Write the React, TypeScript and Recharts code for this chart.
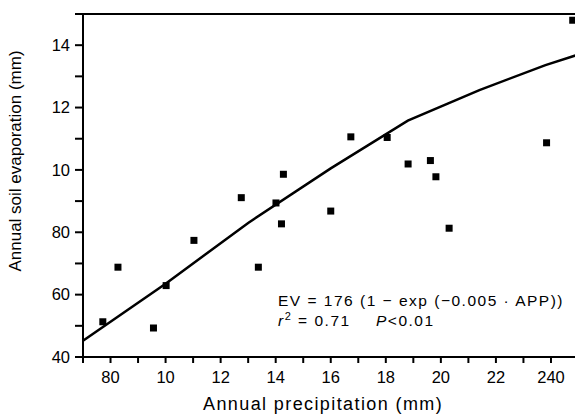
import React from 'react';
import { ComposedChart, Line, Scatter, XAxis, YAxis, ReferenceLine } from 'recharts';

// observed sites: annual precipitation vs annual soil evaporation (mm)
const precipitation = [77.2, 82.7, 95.6, 100.2, 110.3, 127.5, 133.7, 140.1, 142.1, 142.8, 160, 167.3, 180.5, 188.1, 196.2, 198.2, 203, 238.4, 247.9];
const evaporation = [51.3, 68.8, 49.3, 62.9, 77.4, 91.1, 68.8, 89.4, 82.7, 98.6, 86.8, 110.6, 110.4, 101.9, 103, 97.8, 81.3, 108.7, 148];

// fitted curve
const fitPrecipitation = [70, 100, 130, 160, 188, 214, 238, 250];
const fitEvaporation = [45.2, 63.5, 83, 100.5, 115.8, 125.6, 133.6, 137];

const xTicks = [70, 80, 90, 100, 110, 120, 130, 140, 150, 160, 170, 180, 190, 200, 210, 220, 230, 240, 250];
const xMajor = [80, 100, 120, 140, 160, 180, 200, 220, 240];
const xLabels = ['80', '10', '12', '14', '16', '18', '20', '22', '240'];

const yTicks = [40, 50, 60, 70, 80, 90, 100, 110, 120, 130, 140, 150];
const yMajor = [40, 60, 80, 100, 120, 140];
const yLabels = ['40', '60', '80', '10', '12', '14'];

const points = precipitation.map((x, i) => ({ x, y: evaporation[i] }));
const fit = fitPrecipitation.map((x, i) => ({ x, y: fitEvaporation[i] }));

const FONT = '"Liberation Sans", Arial, Helvetica, sans-serif';

const xFmt = (v: number) => {
  const i = xMajor.indexOf(v);
  return i >= 0 ? xLabels[i] : '';
};
const yFmt = (v: number) => {
  const i = yMajor.indexOf(v);
  return i >= 0 ? yLabels[i] : '';
};

const SquareDot = (props: any) => {
  const { cx, cy } = props;
  if (cx == null || cy == null) return <g />;
  return <rect x={cx - 3.5} y={cy - 3.5} width={7} height={7} fill="#000" />;
};

const textBase: React.CSSProperties = {
  position: 'absolute',
  lineHeight: 1,
  whiteSpace: 'nowrap',
};

export default function App() {
  return (
    <div
      style={{
        position: 'relative',
        width: 575,
        height: 414,
        overflow: 'hidden',
        background: '#fff',
        fontFamily: FONT,
        color: '#000',
      }}
    >
      <style>{'body{margin:0}'}</style>
      <ComposedChart
        width={590}
        height={414}
        data={fit}
        margin={{ top: 14, right: 11.5, bottom: 0, left: 0 }}
      >
        <XAxis
          type="number"
          dataKey="x"
          domain={[70, 250]}
          ticks={xTicks}
          interval={0}
          allowDataOverflow
          height={57}
          tickSize={6}
          tickMargin={8}
          tickFormatter={xFmt}
          axisLine={{ stroke: '#000', strokeWidth: 2 }}
          tickLine={{ stroke: '#000', strokeWidth: 2 }}
          tick={{ fill: '#000', fontSize: 16.5, fontFamily: FONT }}
        />
        <YAxis
          type="number"
          dataKey="y"
          domain={[40, 150]}
          ticks={yTicks}
          interval={0}
          allowDataOverflow
          width={83}
          tickSize={8}
          tickMargin={5}
          tickFormatter={yFmt}
          axisLine={{ stroke: '#000', strokeWidth: 2 }}
          tickLine={{ stroke: '#000', strokeWidth: 2 }}
          tick={{ fill: '#000', fontSize: 16.5, fontFamily: FONT }}
        />
        <ReferenceLine y={150} stroke="#000" strokeWidth={2} />
        <Line
          data={fit}
          dataKey="y"
          type="linear"
          stroke="#000"
          strokeWidth={2.5}
          dot={false}
          activeDot={false}
          isAnimationActive={false}
        />
        <Scatter data={points} dataKey="y" shape={<SquareDot />} isAnimationActive={false} />
      </ComposedChart>

      <div
        style={{
          ...textBase,
          left: 15,
          top: 161,
          transform: 'translate(-50%, -50%) rotate(-90deg)',
          fontSize: 17,
        }}
      >
        Annual soil evaporation (mm)
      </div>
      <div style={{ ...textBase, left: 203, top: 395, fontSize: 18, letterSpacing: 1.4 }}>
        Annual precipitation (mm)
      </div>

      <div style={{ ...textBase, left: 278, top: 293, fontSize: 15.5, letterSpacing: 1.5 }}>
        EV = 176 (1 − exp (−0.005 · APP))
      </div>
      <div style={{ ...textBase, left: 278, top: 313, fontSize: 15.5, letterSpacing: 1.5 }}>
        <i>r</i>
        <sup style={{ fontSize: 11, verticalAlign: 6, lineHeight: 0 }}>2</sup> = 0.71
      </div>
      <div style={{ ...textBase, left: 376, top: 313, fontSize: 15.5, letterSpacing: 1.5 }}>
        <i>P</i>&lt;0.01
      </div>
    </div>
  );
}
